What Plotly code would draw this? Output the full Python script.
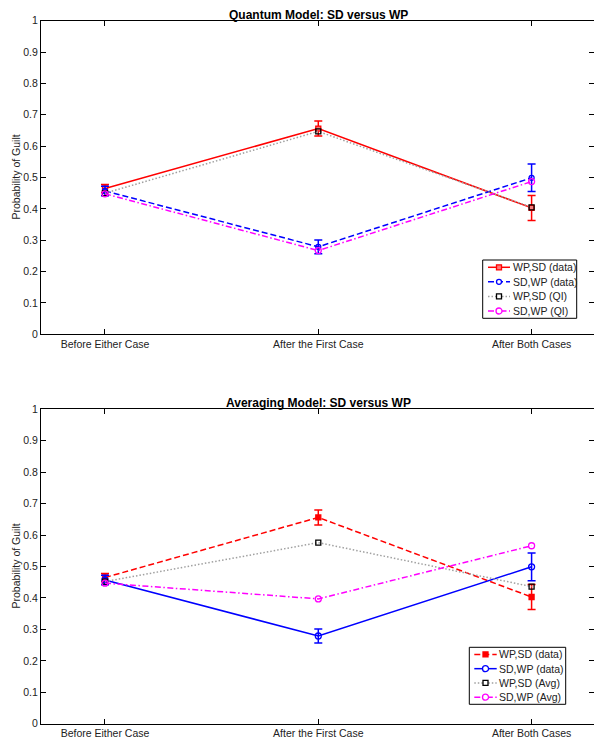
import plotly.graph_objects as go

categories = ["Before Either Case", "After the First Case", "After Both Cases"]
xpos = [1, 2, 3]

# observed data (shared by both panels)
wpsd_data = [0.465, 0.656, 0.403]
wpsd_err = [0.013, 0.024, 0.040]
sdwp_data = [0.457, 0.279, 0.499]
sdwp_err = [0.015, 0.022, 0.044]

# quantum model predictions
wpsd_qi = [0.450, 0.647, 0.405]
sdwp_qi = [0.448, 0.267, 0.487]

# averaging model predictions
wpsd_avg = [0.452, 0.576, 0.436]
sdwp_avg = [0.447, 0.397, 0.566]

ytick_vals = [0, 0.1, 0.2, 0.3, 0.4, 0.5, 0.6, 0.7, 0.8, 0.9, 1]
ytick_text = ["0", "0.1", "0.2", "0.3", "0.4", "0.5", "0.6", "0.7", "0.8", "0.9", "1"]

top_names = ["WP,SD (data)", "SD,WP (data)", "WP,SD (QI)", "SD,WP (QI)"]
bot_names = ["WP,SD (data)", "SD,WP (data)", "WP,SD (Avg)", "SD,WP (Avg)"]

FONT = "Liberation Sans, Arial, Helvetica, sans-serif"
W, H = 594, 742
RED, BLUE, MAG, GRAY = "#ff0000", "#0000ff", "#ff00ff", "#a0a0a0"
LIGHTRED = "rgba(255,120,120,1)"
DASH = "6px,3px"
DOT = "1.5px,2px"
DASHDOT = "6px,2.5px,1.5px,2.5px"
LW = 1.5
FS = 10.5

fig = go.Figure()

# style per series: (line color, dash, marker kind, marker size, edge color, fill)
top_styles = [
    (RED, "solid", "square", 5, RED, LIGHTRED),
    (BLUE, DASH, "circle", 5, BLUE, None),
    (GRAY, DOT, "square", 5, "black", None),
    (MAG, DASHDOT, "circle", 6, MAG, None),
]
bot_styles = [
    (RED, DASH, "square", 5, RED, RED),
    (BLUE, "solid", "circle", 6, BLUE, None),
    (GRAY, DOT, "square", 5, "black", None),
    (MAG, DASHDOT, "circle", 6, MAG, None),
]


def add(y, name, style, xa, ya, err=None):
    color, dash, kind, msize, mcolor, mfill = style
    symbol = kind if mfill else kind + "-open"
    kw = {}
    if err is not None:
        kw["error_y"] = dict(type="data", array=err, visible=True, color=color,
                             thickness=1.5, width=4)
    fig.add_trace(go.Scatter(
        x=xpos, y=y, name=name, mode="lines+markers", showlegend=False,
        line=dict(color=color, width=LW, dash=dash),
        marker=dict(symbol=symbol, size=msize, color=mfill or mcolor,
                    line=dict(color=mcolor, width=1.3)),
        xaxis=xa, yaxis=ya, **kw))


add(wpsd_data, top_names[0], top_styles[0], "x", "y", wpsd_err)
add(sdwp_data, top_names[1], top_styles[1], "x", "y", sdwp_err)
add(wpsd_qi, top_names[2], top_styles[2], "x", "y")
add(sdwp_qi, top_names[3], top_styles[3], "x", "y")

add(wpsd_data, bot_names[0], bot_styles[0], "x2", "y2", wpsd_err)
add(sdwp_data, bot_names[1], bot_styles[1], "x2", "y2", sdwp_err)
add(wpsd_avg, bot_names[2], bot_styles[2], "x2", "y2")
add(sdwp_avg, bot_names[3], bot_styles[3], "x2", "y2")

x0 = 41 / W
top_dom = [1 - 334.3 / H, 1 - 20.7 / H]
bot_dom = [1 - 723.7 / H, 1 - 409.3 / H]
xrange = [0.7, 0.7 + 553 / 213.3]


def px(x):
    return x / W


def py(y):
    return 1 - y / H


shapes = []
annotations = []


def make_legend(names, styles, box, line_x, text_x):
    bx0, by0, bx1, by1 = box
    shapes.append(dict(type="rect", xref="paper", yref="paper",
                       x0=px(bx0), x1=px(bx1), y0=py(by0), y1=py(by1),
                       line=dict(color="black", width=1), fillcolor="white", layer="above"))
    n = len(names)
    step = (by1 - by0) / n
    for i, (name, st) in enumerate(zip(names, styles)):
        color, dash, kind, msize, mcolor, mfill = st
        cy = by0 + step * (i + 0.5)
        shapes.append(dict(type="line", xref="paper", yref="paper",
                           x0=px(line_x[0]), x1=px(line_x[1]), y0=py(cy), y1=py(cy),
                           line=dict(color=color, width=LW, dash=dash), layer="above"))
        mx = (line_x[0] + line_x[1]) / 2
        r = msize / 2
        shapes.append(dict(type="rect" if kind == "square" else "circle",
                           xref="paper", yref="paper",
                           x0=px(mx - r), x1=px(mx + r), y0=py(cy - r), y1=py(cy + r),
                           line=dict(color=mcolor, width=1.3),
                           fillcolor=mfill or "white", layer="above"))
        annotations.append(dict(text=name, x=px(text_x), y=py(cy), xref="paper", yref="paper",
                                xanchor="left", yanchor="middle", showarrow=False,
                                font=dict(size=FS, color="#222", family=FONT)))


make_legend(top_names, top_styles, (482.7, 260.0, 576.7, 318.3), (488, 510), 510.5)
make_legend(bot_names, bot_styles, (469.3, 647.3, 565.7, 704.3), (474.3, 496.7), 496.5)


def xaxis(anchor):
    return dict(domain=[x0, 1], range=xrange, anchor=anchor, automargin=False,
                tickvals=xpos, ticktext=categories, ticks="inside", ticklen=5,
                tickcolor="black", showline=True, linecolor="black", linewidth=1,
                mirror="ticks", showgrid=False, zeroline=False,
                tickfont=dict(size=FS, color="#222", family=FONT))


def yaxis(dom, anchor):
    return dict(domain=dom, range=[0, 1], anchor=anchor, automargin=False,
                tickvals=ytick_vals, ticktext=ytick_text, ticks="inside", ticklen=5,
                tickcolor="black", showline=True, linecolor="black", linewidth=1,
                mirror="ticks", showgrid=False, zeroline=False,
                tickfont=dict(size=FS, color="#222", family=FONT))


xc = (x0 + 1.003) / 2
for dom, title in [(top_dom, "Quantum Model: SD versus WP"),
                   (bot_dom, "Averaging Model: SD versus WP")]:
    annotations.append(dict(text="<b>" + title + "</b>", x=xc, y=dom[1],
                            xref="paper", yref="paper", xanchor="center", yanchor="bottom",
                            yshift=-3, showarrow=False,
                            font=dict(size=12, color="black", family=FONT)))
    annotations.append(dict(text="Probability of Guilt", x=px(15), y=(dom[0] + dom[1]) / 2,
                            xref="paper", yref="paper", xanchor="center", yanchor="middle",
                            textangle=-90, showarrow=False,
                            font=dict(size=FS, color="#222", family=FONT)))

fig.update_layout(
    width=W, height=H, margin=dict(l=0, r=0, t=0, b=0, autoexpand=False),
    paper_bgcolor="white", plot_bgcolor="white", showlegend=False,
    font=dict(family=FONT, size=FS, color="#222"),
    xaxis=xaxis("y"), yaxis=yaxis(top_dom, "x"),
    xaxis2=xaxis("y2"), yaxis2=yaxis(bot_dom, "x2"),
    shapes=shapes, annotations=annotations,
)

fig.write_html("out.html", config={"displayModeBar": False},
               post_script="document.body.style.margin='0';document.body.style.padding='0';")
